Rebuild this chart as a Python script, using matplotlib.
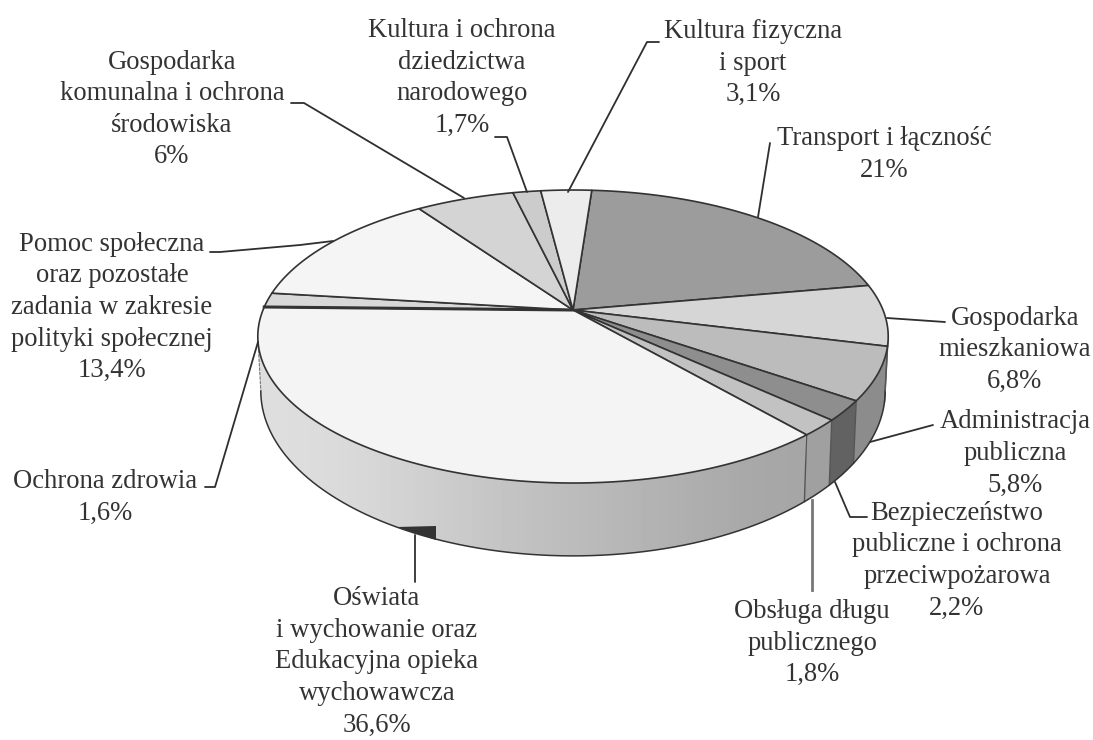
import numpy as np
import matplotlib
matplotlib.use("Agg")
import matplotlib.pyplot as plt
from matplotlib.patches import Polygon

plt.rcParams['font.family'] = ['Liberation Serif', 'DejaVu Serif']

categories = ["Transport i łączność", "Gospodarka mieszkaniowa", "Administracja publiczna",
              "Bezpieczeństwo publiczne i ochrona przeciwpożarowa", "Obsługa długu publicznego",
              "Oświata i wychowanie oraz Edukacyjna opieka wychowawcza", "Ochrona zdrowia",
              "Pomoc społeczna oraz pozostałe zadania w zakresie polityki społecznej",
              "Gospodarka komunalna i ochrona środowiska",
              "Kultura i ochrona dziedzictwa narodowego", "Kultura fizyczna i sport"]
values = [21, 6.8, 5.8, 2.2, 1.8, 36.6, 1.6, 13.4, 6, 1.7, 3.1]
top_colors = ['#9c9c9c', '#d6d6d6', '#bcbcbc', '#8e8e8e', '#c2c2c2', '#f4f4f4',
              '#d8d8d8', '#f5f5f5', '#d4d4d4', '#cccccc', '#ececec']
side_colors = ['#808080', '#8a8a8a', '#8c8c8c', '#626262', '#a0a0a0', '#c4c4c4',
               '#dddddd', '#dddddd', '#dddddd', '#dddddd', '#dddddd']

labels = [
    ("Kultura i ochrona\ndziedzictwa\nnarodowego\n1,7%", 462, 78),
    ("Kultura fizyczna\ni sport\n3,1%", 753, 63),
    ("Gospodarka\nkomunalna i ochrona\nśrodowiska\n6%", 172, 109.5),
    ("Transport i łączność\n21%", 884, 154.5),
    ("Gospodarka\nmieszkaniowa\n6,8%", 1015, 350),
    ("Administracja\npubliczna\n5,8%", 1015, 453.5),
    ("Bezpieczeństwo\npubliczne i ochrona\nprzeciwpożarowa\n2,2%", 957, 560.5),
    ("Obsługa długu\npublicznego\n1,8%", 812, 643),
    ("Oświata\ni wychowanie oraz\nEdukacyjna opieka\nwychowawcza\n36,6%", 377, 662),
    ("Ochrona zdrowia\n1,6%", 105, 497.5),
    ("Pomoc społeczna\noraz pozostałe\nzadania w zakresie\npolityki społecznej\n13,4%", 112, 307.5),
]
leaders = [
    ([659, 647, 568], [42, 42, 192]),
    ([495, 507, 527], [137, 137, 192]),
    ([291, 304, 464], [103, 103, 198]),
    ([770, 758], [143, 217]),
    ([887, 945], [318, 322]),
    ([870, 933], [442, 425]),
    ([835, 850, 867], [482, 517, 517]),
    ([415, 415], [535, 582]),
    ([205, 215, 258], [487, 487, 342]),
    ([210, 220, 300, 333], [252, 252, 245, 241]),
]
gray_leader = ([812, 812], [500, 590])

# perspective geometry of the disc, in pixels
CX, CY = 573, 310
A, B, K = 310.0, 141.7, 0.181
START = 4.1


def project(theta_deg):
    t = np.radians(theta_deg)
    u, v = np.sin(t), np.cos(t)
    d = 1 + K * v
    return CX + A * u / d, CY - B * v / d


def lower(theta_deg):
    x, y = project(theta_deg)
    return CX + (x - CX) * 312 / 315, 391.5 + (y - 337) * 165.5 / 147


fig = plt.figure(figsize=(10.93, 7.40), dpi=100)
ax = fig.add_axes([0, 0, 1, 1])
ax.axis('off')

edges = START + np.concatenate([[0], np.cumsum(values)]) / sum(values) * 360

th_all = np.linspace(0, 360, 3601)
x_all, _ = project(th_all)
th_r, th_l = th_all[np.argmax(x_all)], th_all[np.argmin(x_all)]

wall_th = np.linspace(th_r, th_l, 400)
xt, yt = project(wall_th)
xb, yb = lower(wall_th)

for i, val in enumerate(values):
    a, b = max(edges[i], th_r), min(edges[i + 1], th_l)
    if b <= a:
        continue
    th = np.linspace(a, b, 80)
    xa, ya = project(th)
    xc, yc = lower(th)
    pts = np.column_stack([np.r_[xa, xc[::-1]], np.r_[ya, yc[::-1]]])
    ax.add_patch(Polygon(pts, closed=True, fc=side_colors[i], ec='none', zorder=2))
    if i == 5:
        grad = np.array([[0.87, 0.85, 0.81, 0.77, 0.74, 0.71, 0.68, 0.65]])
        im = ax.imshow(grad, cmap='gray', vmin=0, vmax=1, extent=(258, 805, 560, 300),
                       aspect='auto', interpolation='bicubic', zorder=2.1)
        im.set_clip_path(Polygon(pts, closed=True, transform=ax.transData))
    if a == edges[i] and a > th_r:
        ax.plot([xa[0], xc[0]], [ya[0], yc[0]], color='#555555', lw=1.0, zorder=3)

ax.plot(xb, yb, color='#333333', lw=1.1, zorder=3)
ax.plot([xt[0], xb[0]], [yt[0], yb[0]], color='#555555', lw=1.0, zorder=3)
ax.plot([xt[-1], xb[-1]], [yt[-1], yb[-1]], color='#777777', lw=0.8, ls=(0, (3, 1)), zorder=3)

for i, val in enumerate(values):
    th = np.linspace(edges[i], edges[i + 1], 120)
    x, y = project(th)
    pts = np.column_stack([np.r_[CX, x], np.r_[CY, y]])
    ax.add_patch(Polygon(pts, closed=True, fc=top_colors[i], ec='#333333', lw=1.2,
                         joinstyle='round', zorder=4))

# heavier dividing line between Oswiata and Ochrona zdrowia
xe, ye = project(edges[6])
ax.plot([CX, xe], [CY, ye], color='#333333', lw=2.2, zorder=4.5)

# small dark tab at the Oswiata leader
ax.add_patch(Polygon([[397, 527], [436, 526], [436, 540]], closed=True,
                     fc='#333333', ec='none', zorder=5))

for xs, ys in leaders:
    ax.plot(xs, ys, color='#2f2f2f', lw=1.3, zorder=6, solid_capstyle='round')
ax.plot(gray_leader[0], gray_leader[1], color='#777777', lw=2.0, zorder=6)

for text, x, y in labels:
    ax.text(x, y, text, ha='center', va='center', fontsize=19.2, color='#333333',
            linespacing=1.35, zorder=7)

ax.set_xlim(0, 1093)
ax.set_ylim(740, 0)
fig.savefig('out.png', dpi=100)
